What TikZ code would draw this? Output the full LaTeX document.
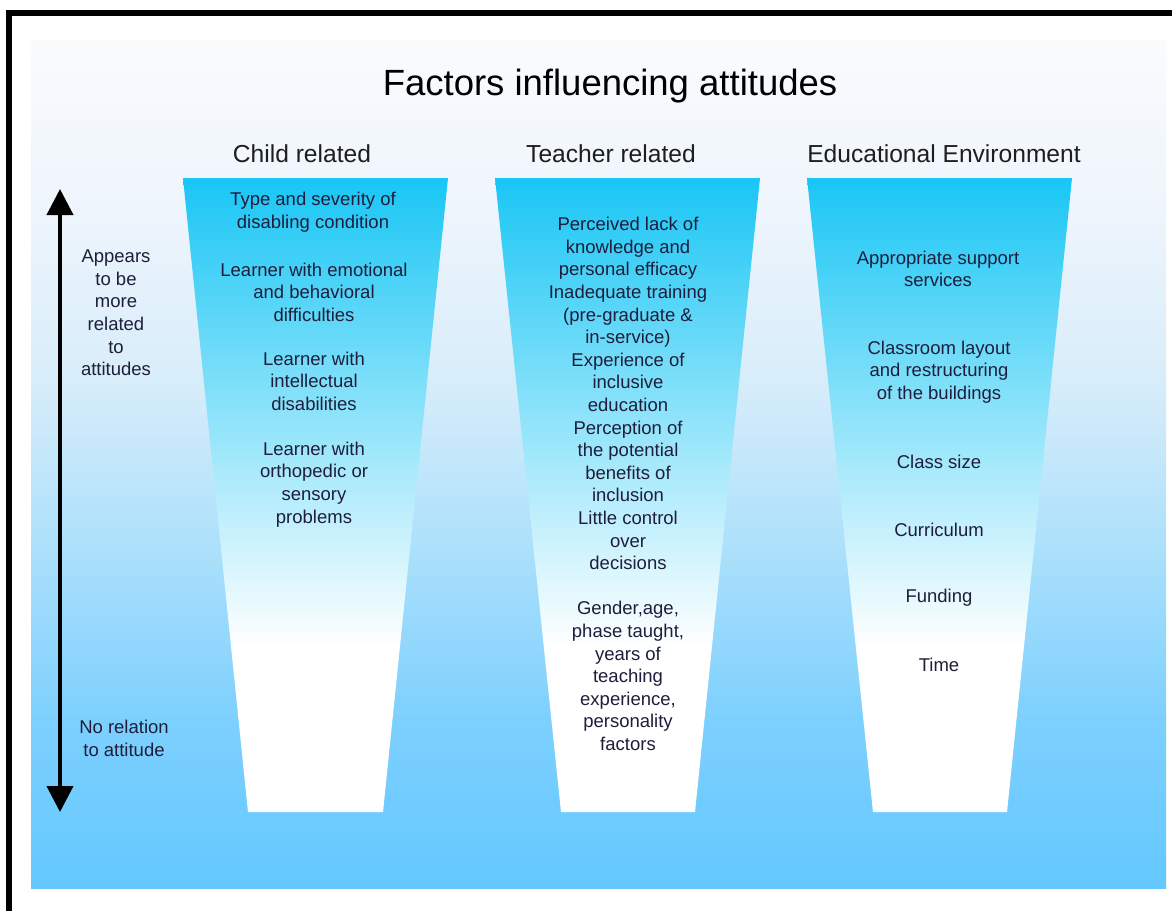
\documentclass[tikz,border=0pt]{standalone}
\usepackage{fontspec}
\setmainfont{Liberation Sans}
\usetikzlibrary{arrows.meta}

\definecolor{pb0}{RGB}{100,200,255}
\definecolor{pb1}{RGB}{125,208,254}
\definecolor{pb2}{RGB}{172,224,251}
\definecolor{pb3}{RGB}{216,237,250}
\definecolor{pb4}{RGB}{238,245,252}
\definecolor{pb5}{RGB}{250,251,253}
\definecolor{fcyan}{RGB}{25,198,245}
\definecolor{bodytext}{RGB}{30,30,60}

% background panel: near white at the top, light blue at the bottom
\pgfdeclareverticalshading{panelshade}{100bp}{color(0bp)=(pb0); color(25bp)=(pb0); color(35bp)=(pb1); color(45bp)=(pb2); color(55bp)=(pb3); color(65bp)=(pb4); color(75bp)=(pb5); color(100bp)=(pb5)}
% funnel fill: cyan at the top fading to white
\pgfdeclareverticalshading{funnelshade}{100bp}{color(0bp)=(white); color(25bp)=(white); color(38bp)=(white); color(75bp)=(fcyan); color(100bp)=(fcyan)}

\tikzset{
  bodyfont/.style={font=\fontsize{18.5pt}{22.6pt}\selectfont, text=bodytext, align=center, inner sep=0pt},
  headfont/.style={font=\fontsize{24.6pt}{28pt}\selectfont, text={rgb,255:red,30;green,30;blue,30}, inner sep=0pt, anchor=base},
  titlefont/.style={font=\fontsize{36.5pt}{40pt}\selectfont, text=black, inner sep=0pt, anchor=base},
  funnel/.style={shading=funnelshade, draw=none},
  scalearrow/.style={line width=4pt, {Triangle[width=26pt,length=26pt]}-{Triangle[width=26pt,length=26pt]}}
}

\begin{document}
\begin{tikzpicture}[x=1pt,y=-1pt]
\useasboundingbox (0,0) rectangle (1172,911);
\fill[white] (0,0) rectangle (1172,911);

% panel
\shade[shading=panelshade] (31,40) rectangle (1166,888);

% frame (top and left edges)
\draw[line width=6pt, line join=miter] (9,911) -- (9,13) -- (1172,13);

% funnels
\shade[funnel] (183,178) -- (448,178) -- (383,812) -- (248,812) -- cycle;
\shade[funnel] (495,178) -- (760,178) -- (695,812) -- (561,812) -- cycle;
\shade[funnel] (807,178) -- (1072,178) -- (1007,812) -- (873,812) -- cycle;

% title and column headings
\node[titlefont] (title) at (610,95) {Factors influencing attitudes};
\node[headfont] (hchild) at (302,162) {Child related};
\node[headfont] (hteach) at (611,162) {Teacher related};
\node[headfont] (henv) at (944,162) {Educational Environment};

% child related
\node[bodyfont] (c1) at (313,212) {Type and severity of\\disabling condition};
\node[bodyfont] (c2) at (314,292) {Learner with emotional\\and behavioral\\difficulties};
\node[bodyfont] (c3) at (314,381) {Learner with\\intellectual\\disabilities};
\node[bodyfont] (c4) at (314,484.5) {Learner with\\orthopedic or\\sensory\\problems};

% teacher related
\node[bodyfont] (t1) at (628,393.5) {Perceived lack of\\knowledge and\\personal efficacy\\Inadequate training\\(pre-graduate \&\\in-service)\\Experience of\\inclusive\\education\\Perception of\\the potential\\benefits of\\inclusion\\Little control\\over\\decisions};
\node[bodyfont] (t2) at (628,676) {Gender,age,\\phase taught,\\years of\\teaching\\experience,\\personality\\factors};

% educational environment
\node[bodyfont] (e1) at (938,269) {Appropriate support\\services};
\node[bodyfont] (e2) at (939,372) {Classroom layout\\and restructuring\\of the buildings};
\node[bodyfont] (e3) at (939,462) {Class size};
\node[bodyfont] (e4) at (939,530) {Curriculum};
\node[bodyfont] (e5) at (939,598) {Funding};
\node[bodyfont] (e6) at (939,665) {Time};

% scale arrow with its labels
\coordinate (atop) at (60,189);
\coordinate (abot) at (60,812);
\draw[scalearrow] (abot) -- (atop);
\node[bodyfont] (lup) at (116,313) {Appears\\to be\\more\\related\\to\hspace*{24pt}\\attitudes};
\node[bodyfont] (ldown) at (124,738.5) {No relation\\to attitude};
\end{tikzpicture}
\end{document}
